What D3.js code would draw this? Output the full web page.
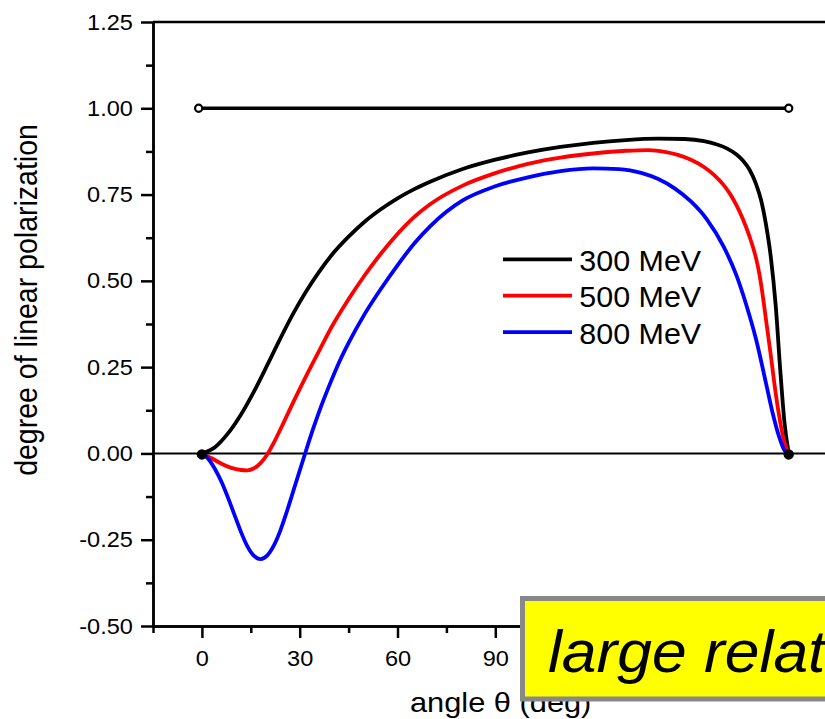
<!DOCTYPE html>
<html>
<head>
<meta charset="utf-8">
<script src="https://cdn.jsdelivr.net/npm/d3@7"></script>
<style>
  body { margin: 0; background: #fff; overflow: hidden; }
  svg { display: block; font-family: "Liberation Sans", Arial, sans-serif; }
  .axis path, .axis line { stroke: #000; stroke-width: 2.5; }
</style>
</head>
<body>
<svg width="825" height="719"></svg>
<script>
// angles (deg) and polarization
var angles300 = [0, 4, 8, 12, 16, 20, 24, 28, 32, 36, 40, 45, 50, 55, 60, 65, 70, 80, 90, 100, 110, 120, 130, 140, 148, 154, 158, 161, 164, 166, 168, 170, 171.5, 173, 174.5, 176, 177.5, 178.7, 180];
var pol300 = [0, 0.018, 0.058, 0.113, 0.18, 0.255, 0.332, 0.405, 0.47, 0.527, 0.577, 0.628, 0.672, 0.708, 0.739, 0.765, 0.787, 0.824, 0.851, 0.872, 0.888, 0.9, 0.908, 0.912, 0.911, 0.905, 0.895, 0.884, 0.866, 0.848, 0.822, 0.78, 0.735, 0.665, 0.57, 0.43, 0.23, 0.09, 0];

var angles500 = [0, 3, 6, 9, 12, 14, 16, 18, 20, 22, 25, 28, 32, 36, 40, 45, 50, 55, 60, 65, 70, 80, 90, 100, 110, 120, 130, 137, 142, 146, 150, 154, 157, 160, 162, 164, 166, 168, 170, 171, 172, 173, 174.5, 176, 177.5, 178.7, 180];
var pol500 = [0, -0.014, -0.03, -0.042, -0.048, -0.049, -0.043, -0.028, -0.004, 0.03, 0.088, 0.148, 0.225, 0.298, 0.37, 0.447, 0.517, 0.58, 0.636, 0.684, 0.722, 0.776, 0.812, 0.839, 0.857, 0.869, 0.877, 0.879, 0.874, 0.865, 0.851, 0.83, 0.808, 0.778, 0.752, 0.719, 0.678, 0.628, 0.565, 0.52, 0.46, 0.39, 0.285, 0.175, 0.085, 0.032, 0];

var angles800 = [0, 2, 4, 6, 8, 10, 12, 14, 16, 18, 20, 22, 24, 26, 28, 30, 32, 34, 36, 39, 42, 45, 50, 55, 60, 65, 70, 75, 80, 90, 100, 110, 120, 128, 135, 140, 145, 150, 155, 160, 164, 167, 170, 173, 175, 177, 178.7, 180];
var pol800 = [0, -0.016, -0.045, -0.082, -0.128, -0.178, -0.228, -0.27, -0.297, -0.306, -0.296, -0.268, -0.225, -0.17, -0.11, -0.05, 0.01, 0.068, 0.122, 0.195, 0.262, 0.32, 0.405, 0.478, 0.545, 0.607, 0.658, 0.7, 0.733, 0.774, 0.8, 0.818, 0.826, 0.824, 0.812, 0.795, 0.768, 0.73, 0.677, 0.6, 0.515, 0.43, 0.33, 0.205, 0.12, 0.05, 0.009, 0];

var limitAngles = [-1, 180];
var limitPol = [1, 1];
var endAngles = [0, 180];
var endPol = [0, 0];

var seriesNames = ["300 MeV", "500 MeV", "800 MeV"];
var seriesColors = ["#000000", "#ff0000", "#0000ff"];

var xTicks = [0, 30, 60, 90];
var xMinor = [-15, 15, 45, 75, 105];
var yTicks = [-0.5, -0.25, 0, 0.25, 0.5, 0.75, 1, 1.25];
var yMinor = [-0.375, -0.125, 0.125, 0.375, 0.625, 0.875, 1.125];

var svg = d3.select("svg");

var x = d3.scaleLinear().domain([-15, 195]).range([153, 837.6]);
var y = d3.scaleLinear().domain([-0.5, 1.25]).range([626, 22]);

function zip(a, b) {
    return a.map(function(d, i) { return [d, b[i]]; });
}

function styleTicks(g) {
    g.attr("font-family", "Liberation Sans, Arial, sans-serif").attr("font-size", 22);
    g.selectAll("text").attr("fill", "#000").attr("transform", "scale(1.07,1)");
}

// axes
svg.append("g")
    .attr("class", "axis")
    .attr("transform", "translate(0,626)")
    .call(d3.axisBottom(x).tickValues(xMinor).tickSize(7).tickSizeOuter(0).tickFormat(""));
svg.append("g")
    .attr("class", "axis")
    .attr("transform", "translate(0,626)")
    .call(d3.axisBottom(x).tickValues(xTicks).tickSize(12).tickPadding(12.2).tickSizeOuter(0).tickFormat(d3.format("d")))
    .call(styleTicks);

svg.append("g")
    .attr("class", "axis")
    .attr("transform", "translate(153,0)")
    .call(d3.axisLeft(y).tickValues(yMinor).tickSize(7).tickSizeOuter(0).tickFormat(""));
svg.append("g")
    .attr("class", "axis")
    .attr("transform", "translate(153,0)")
    .call(d3.axisLeft(y).tickValues(yTicks).tickSize(12).tickPadding(6.8).tickSizeOuter(0)
        .tickFormat(function(d) { return d.toFixed(2); }))
    .call(styleTicks);

// top frame
svg.append("line")
    .attr("x1", 153).attr("x2", 825)
    .attr("y1", y(1.25)).attr("y2", y(1.25))
    .attr("stroke", "#000").attr("stroke-width", 2.5);

// zero line
svg.append("line")
    .attr("x1", 153).attr("x2", 825)
    .attr("y1", y(0)).attr("y2", y(0))
    .attr("stroke", "#000").attr("stroke-width", 2);

var line = d3.line()
    .x(function(d) { return x(d[0]); })
    .y(function(d) { return y(d[1]); })
    .curve(d3.curveMonotoneX);

// limit line at 1
svg.append("path")
    .attr("d", line(zip(limitAngles, limitPol)))
    .attr("fill", "none").attr("stroke", "#000").attr("stroke-width", 3.5);
svg.selectAll("circle.limit")
    .data(zip(limitAngles, limitPol))
    .enter()
    .append("circle")
    .classed("limit", true)
    .attr("cx", function(d) { return x(d[0]); })
    .attr("cy", function(d) { return y(d[1]); })
    .attr("r", 3.6)
    .attr("fill", "#fff").attr("stroke", "#000").attr("stroke-width", 2.2);

var series = [zip(angles300, pol300), zip(angles500, pol500), zip(angles800, pol800)];

svg.selectAll("path.curve")
    .data(series)
    .enter()
    .append("path")
    .classed("curve", true)
    .attr("d", line)
    .attr("fill", "none")
    .attr("stroke", function(d, i) { return seriesColors[i]; })
    .attr("stroke-width", 3.8)
    .attr("stroke-linejoin", "round");

svg.selectAll("circle.end")
    .data(zip(endAngles, endPol))
    .enter()
    .append("circle")
    .classed("end", true)
    .attr("cx", function(d) { return x(d[0]); })
    .attr("cy", function(d) { return y(d[1]) + 1; })
    .attr("r", 5.2)
    .attr("fill", "#000");

// legend
var legend = svg.selectAll("g.legend")
    .data(seriesNames)
    .enter()
    .append("g")
    .classed("legend", true)
    .attr("transform", function(d, i) { return "translate(0," + (259.3 + i * 36.4) + ")"; });
legend.append("line")
    .attr("x1", 503).attr("x2", 572)
    .attr("stroke", function(d, i) { return seriesColors[i]; })
    .attr("stroke-width", 3.8);
legend.append("text")
    .attr("transform", "translate(579.3,11.4) scale(1.05,1)")
    .attr("font-size", "29px")
    .text(function(d) { return d; });

// axis titles
svg.append("text")
    .attr("transform", "translate(36.5,300) rotate(-90) scale(1,1.08)")
    .attr("text-anchor", "middle")
    .attr("font-size", "28.5px")
    .text("degree of linear polarization");
svg.append("text")
    .attr("transform", "translate(410,711.5) scale(1.08,1)")
    .attr("font-size", "28.5px")
    .text("angle θ (deg)");

// yellow note box
svg.append("rect")
    .attr("x", 522.5).attr("y", 598.5)
    .attr("width", 400).attr("height", 100.5)
    .attr("fill", "#ffff00")
    .attr("stroke", "#888").attr("stroke-width", 5);
svg.append("text")
    .attr("transform", "translate(548,672) scale(1.04,1)")
    .attr("font-size", "60px")
    .attr("font-style", "italic")
    .text("large relativistic");
</script>
</body>
</html>
